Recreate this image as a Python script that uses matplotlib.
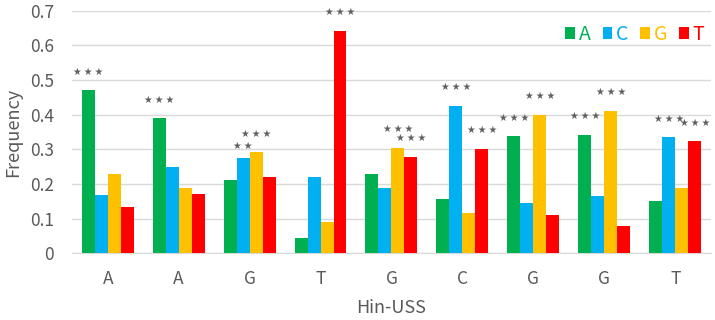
import matplotlib.pyplot as plt
import numpy as np

plt.rcParams['font.family'] = ['Noto Sans CJK JP', 'DejaVu Sans']

positions = ['A', 'A', 'G', 'T', 'G', 'C', 'G', 'G', 'T']
bases = ['A', 'C', 'G', 'T']
colors = ['#00B050', '#00B0F0', '#FFC000', '#FF0000']

freq_A = [0.470, 0.390, 0.212, 0.044, 0.228, 0.155, 0.338, 0.342, 0.150]
freq_C = [0.167, 0.250, 0.276, 0.221, 0.187, 0.426, 0.146, 0.166, 0.335]
freq_G = [0.228, 0.188, 0.292, 0.090, 0.305, 0.115, 0.400, 0.412, 0.188]
freq_T = [0.134, 0.172, 0.220, 0.643, 0.279, 0.302, 0.111, 0.079, 0.323]

# significance marks: (position index, base index, number of stars)
marks = [(0, 0, 3), (1, 0, 3), (2, 1, 2), (2, 2, 3),
         (3, 3, 3), (4, 2, 3), (4, 3, 3), (5, 1, 3),
         (5, 3, 3), (6, 0, 3), (6, 2, 3), (7, 0, 3),
         (7, 2, 3), (8, 1, 3), (8, 3, 3)]

series = [freq_A, freq_C, freq_G, freq_T]

fig = plt.figure(figsize=(7.15, 3.2), dpi=100)
ax = fig.add_axes([0.101, 0.209, 0.893, 0.757])

x = np.arange(len(positions))
w = 0.183
for i, (vals, col, b) in enumerate(zip(series, colors, bases)):
    ax.bar(x + (i - 1.5) * w, vals, w, color=col, label=b, zorder=3)

for p, b, n in marks:
    off = 0.035 if n == 2 else 0.053
    ax.text(p + (b - 1.5) * w, series[b][p] + off, '\u2009'.join(['★'] * n),
            ha='center', va='center', fontsize=7, color='#606060',
            family='DejaVu Sans')

ax.set_xlim(-0.5, len(positions) - 0.5)
ax.set_ylim(0, 0.7)
ax.set_yticks(np.arange(0, 0.71, 0.1))
ax.set_yticklabels(['0', '0.1', '0.2', '0.3', '0.4', '0.5', '0.6', '0.7'])
ax.set_xticks(x)
ax.set_xticklabels(positions)
ax.tick_params(length=0, labelsize=12.5, colors='#595959')
ax.tick_params(axis='y', pad=13)
ax.tick_params(axis='x', pad=12)
ax.grid(axis='y', color='#D9D9D9', linewidth=1, zorder=0)
for s in ['top', 'right', 'left']:
    ax.spines[s].set_visible(False)
ax.spines['bottom'].set_color('#D9D9D9')
ax.set_ylabel('Frequency', fontsize=13, color='#595959', labelpad=6)
ax.set_xlabel('Hin-USS', fontsize=13, color='#595959', labelpad=8)

leg = ax.legend(loc='upper right', ncol=4, frameon=False, fontsize=14,
                handlelength=0.5, handleheight=0.55, handletextpad=0.2,
                columnspacing=0.6, borderpad=0, borderaxespad=0,
                bbox_to_anchor=(0.99, 0.945))
for t, col in zip(leg.get_texts(), colors):
    t.set_color(col)

fig.savefig('out.png')
